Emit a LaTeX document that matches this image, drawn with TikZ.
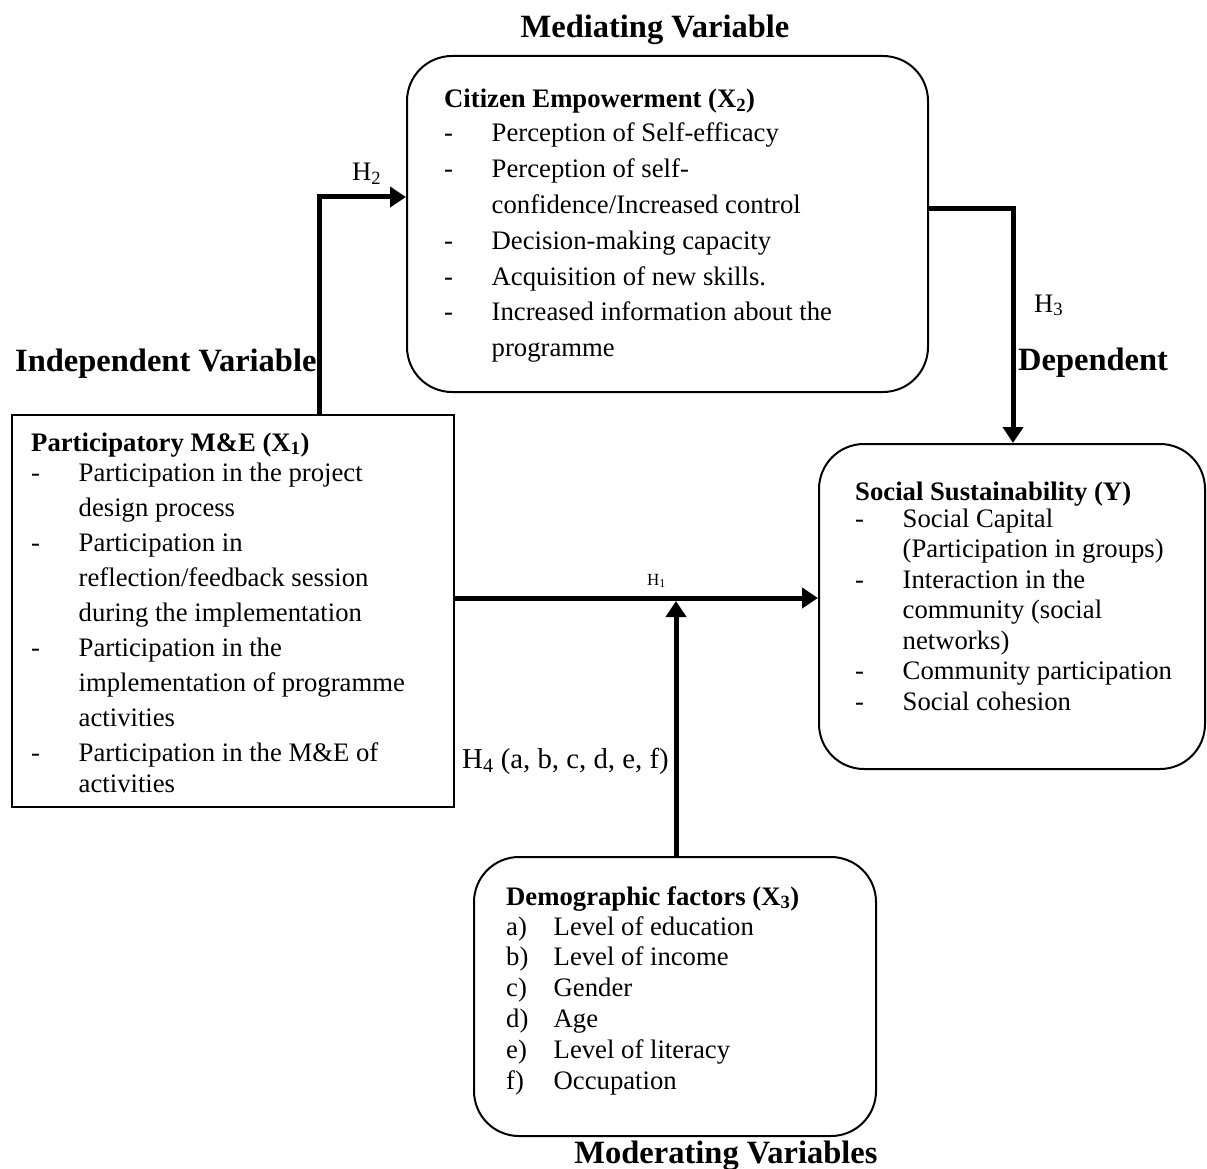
\documentclass[tikz,border=0pt]{standalone}
\usepackage{fontspec}
\setmainfont{Liberation Serif}
\usetikzlibrary{arrows.meta}
\newcommand{\ditem}[2][-]{\makebox[47.5pt][l]{#1}#2}
\newcommand{\contline}[1]{\hspace*{47.5pt}#1}
\begin{document}
\begin{tikzpicture}[x=1pt,y=-1pt,
  rbox/.style={draw, line width=2pt, rounded corners=45pt, inner sep=0pt, anchor=north west},
  sbox/.style={draw, line width=2.2pt, inner sep=0pt, anchor=north west},
  txt/.style={inner sep=0pt, anchor=base west},
  head/.style={inner sep=0pt, font=\fontsize{32.5}{36}\selectfont\bfseries},
  lab/.style={inner sep=0pt, anchor=base west, font=\fontsize{26.7}{30}\selectfont},
  arr/.style={line width=5pt, -{Triangle[length=16pt,width=20pt]}},
  ]
\useasboundingbox (0,0) rectangle (1207,1169);

% boxes
\node[rbox, minimum width=521pt, minimum height=336pt] (x2) at (406,55) {};
\node[sbox, minimum width=442pt, minimum height=392pt] (x1) at (11,414) {};
\node[rbox, minimum width=386pt, minimum height=325pt] (y) at (818,443) {};
\node[rbox, minimum width=402pt, minimum height=279pt] (x3) at (473,856) {};

% box texts
\node[txt, font=\fontsize{26.7}{35.8}\selectfont] (x2t) at (444,108) {\begin{tabular}[t]{@{}l@{}}
\textbf{Citizen Empowerment (X\textsubscript{2})}\\[-1.8pt]
\ditem{Perception of Self-efficacy}\\
\ditem{Perception of self-}\\
\contline{confidence/Increased control}\\
\ditem{Decision-making capacity}\\
\ditem{Acquisition of new skills.}\\
\ditem{Increased information about the}\\
\contline{programme}
\end{tabular}};

\node[txt, font=\fontsize{26.7}{35}\selectfont] (x1t) at (31,451) {\begin{tabular}[t]{@{}l@{}}
\textbf{Participatory M\&E (X\textsubscript{1})}\\[-5pt]
\ditem{Participation in the project}\\
\contline{design process}\\
\ditem{Participation in}\\
\contline{reflection/feedback session}\\
\contline{during the implementation}\\
\ditem{Participation in the}\\
\contline{implementation of programme}\\
\contline{activities}\\
\ditem{Participation in the M\&E of}\\[-4pt]
\contline{activities}
\end{tabular}};

\node[txt, font=\fontsize{26.7}{30.5}\selectfont] (yt) at (855,500) {\begin{tabular}[t]{@{}l@{}}
\textbf{Social Sustainability (Y)}\\[-3.5pt]
\ditem{Social Capital}\\
\contline{(Participation in groups)}\\
\ditem{Interaction in the}\\
\contline{community (social}\\
\contline{networks)}\\
\ditem{Community participation}\\
\ditem{Social cohesion}
\end{tabular}};

\node[txt, font=\fontsize{26.7}{30.8}\selectfont] (x3t) at (506,905) {\begin{tabular}[t]{@{}l@{}}
\textbf{Demographic factors (X\textsubscript{3})}\\[-0.8pt]
\ditem[a)]{Level of education}\\
\ditem[b)]{Level of income}\\
\ditem[c)]{Gender}\\
\ditem[d)]{Age}\\
\ditem[e)]{Level of literacy}\\
\ditem[f)]{Occupation}
\end{tabular}};

% headings
\node[head, anchor=base] (hmed) at (655,38) {Mediating Variable};
\node[head, anchor=base west] (hind) at (15,371) {Independent Variable};
\node[head, anchor=base west] (hdep) at (1018,370) {Dependent};
\node[head, anchor=base] (hmod) at (726,1163) {Moderating Variables};

% connector helper points
\coordinate (h2c) at (319,197);
\coordinate (h3c) at (1013,209);
\coordinate (h1c) at (676,598);
\coordinate (h4c) at (676,601);

% arrows
\draw[arr] (x1.north -| h2c) -- (h2c) -- (h2c -| x2.west);
\draw[arr] (h3c -| x2.east) -- (h3c) -- (h3c |- y.north);
\draw[arr] (h1c -| x1.east) -- (h1c -| y.west);
\draw[arr] (h4c |- x3.north) -- (h4c);

% hypothesis labels
\node[lab] (h2) at (352,181) {H\textsubscript{2}};
\node[lab] (h3) at (1034,312) {H\textsubscript{3}};
\node[lab, font=\fontsize{28.8}{32}\selectfont] (h4) at (462,768) {H\textsubscript{4} (a, b, c, d, e, f)};
\node[lab, font=\fontsize{17}{20}\selectfont] (h1) at (647,585) {H\textsubscript{1}};
\end{tikzpicture}
\end{document}
